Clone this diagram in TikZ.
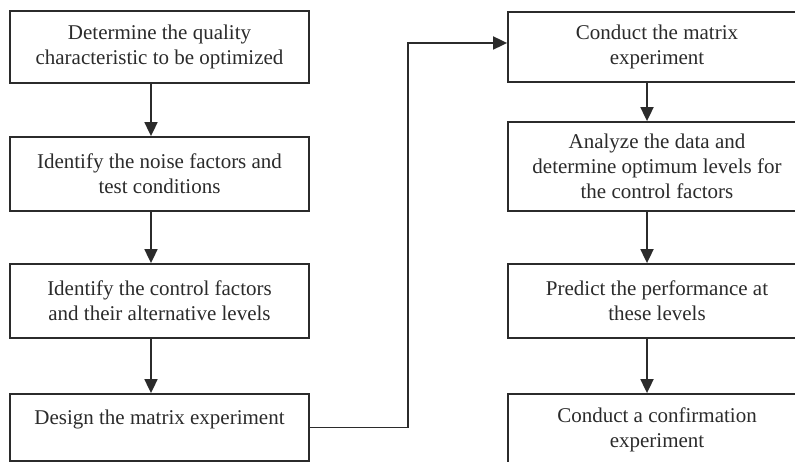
\documentclass[tikz,border=0pt]{standalone}
\usepackage{fontspec}
\setmainfont{Liberation Serif}
\usetikzlibrary{arrows.meta}
\definecolor{ink}{HTML}{2B2B2B}
\tikzset{
  stepbox/.style={draw=ink, line width=1.8pt, inner sep=0pt, align=center,
    text=ink, font=\fontsize{21}{25}\selectfont, minimum width=#1},
  stepbox/.default=299pt,
  flow/.style={draw=ink, line width=1.8pt, -{Triangle[width=13pt,length=14pt]}},
}
\begin{document}
\begin{tikzpicture}[x=1pt,y=-1pt]
\useasboundingbox (0,0) rectangle (795,462);
\clip (0,0) rectangle (795,462);
\fill[white] (0,0) rectangle (795,462);
% left column
\node[stepbox, minimum height=72pt] (b1) at (159.5,47) {Determine the quality\\characteristic to be optimized};
\node[stepbox, minimum height=74pt] (b2) at (159.5,174) {Identify the noise factors and\\test conditions};
\node[stepbox, minimum height=74pt] (b3) at (159.5,301) {Identify the control factors\\and their alternative levels};
\node[stepbox, minimum height=67pt, text height=15pt, text depth=22pt] (b4) at (159.5,427.5) {Design the matrix experiment};
% right column
\node[stepbox=298pt, minimum height=70pt] (r1) at (657,47) {Conduct the matrix\\experiment};
\node[stepbox=298pt, minimum height=89pt] (r2) at (657,166.5) {Analyze the data and\\determine optimum levels for\\the control factors};
\node[stepbox=298pt, minimum height=74pt] (r3) at (657,301) {Predict the performance at\\these levels};
\node[stepbox=298pt, minimum height=72pt] (r4) at (657,430) {Conduct a confirmation\\experiment};
% vertical arrows
\draw[flow] ([xshift=-8.5pt]b1.south) -- ([xshift=-8.5pt]b2.north);
\draw[flow] ([xshift=-8.5pt]b2.south) -- ([xshift=-8.5pt]b3.north);
\draw[flow] ([xshift=-8.5pt]b3.south) -- ([xshift=-8.5pt]b4.north);
\draw[flow] ([xshift=-10pt]r1.south) -- ([xshift=-10pt]r2.north);
\draw[flow] ([xshift=-10pt]r2.south) -- ([xshift=-10pt]r3.north);
\draw[flow] ([xshift=-10pt]r3.south) -- ([xshift=-10pt]r4.north);
% connector
\coordinate (c1) at (408,427.5);
\coordinate (c2) at (408,43);
\draw[flow] (b4.east) -- (c1) -- (c2) -- ([yshift=4pt]r1.west);
\end{tikzpicture}
\end{document}
